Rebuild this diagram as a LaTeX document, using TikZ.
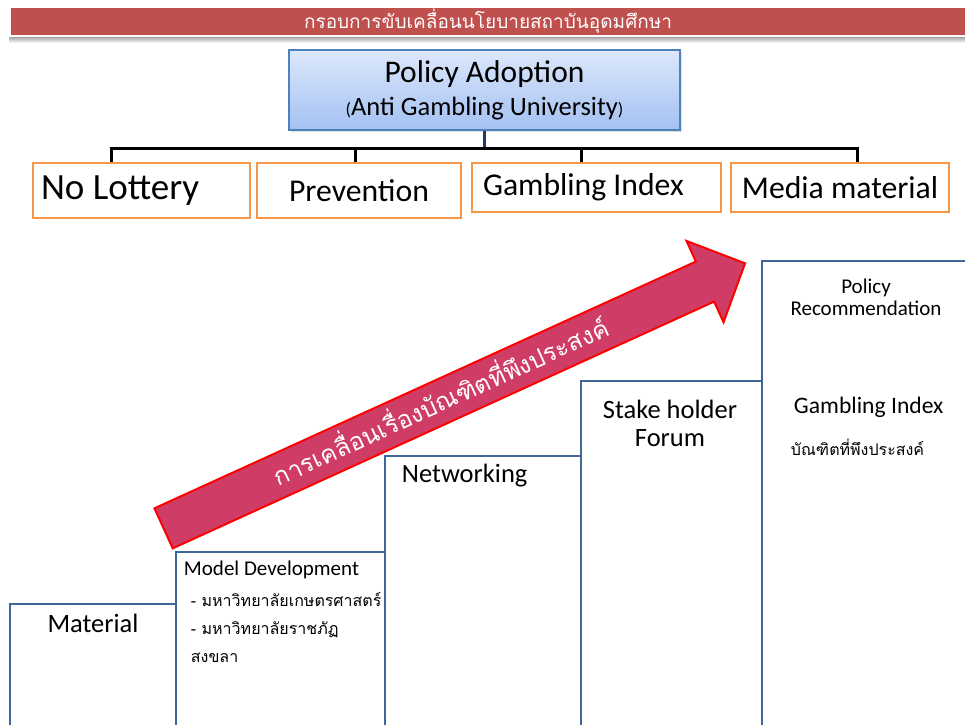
\documentclass[tikz,border=0pt]{standalone}
\usepackage{fontspec}
\setmainfont{Carlito}
\newfontfamily\thaifont[Script=Thai]{Loma}
\usetikzlibrary{positioning, calc, shadows}

\definecolor{titlered}{HTML}{C0504D}
\definecolor{policyblue}{HTML}{4F81BD}
\definecolor{policytop}{HTML}{DCE7FB}
\definecolor{policybottom}{HTML}{A3C1F2}
\definecolor{boxorange}{HTML}{F79646}
\definecolor{stairblue}{HTML}{41669A}
\definecolor{arrowfill}{HTML}{CF3D66}
\definecolor{navy}{HTML}{1F3864}

\begin{document}
\begin{tikzpicture}[
    x=1pt, y=-1pt,
    titlebar/.style={rectangle, fill=titlered, minimum width=954pt, minimum height=27pt, inner sep=0pt, text=white, font=\thaifont\fontsize{19}{24}\selectfont},
    policy/.style={rectangle, draw=policyblue, line width=1.2pt, top color=policytop, bottom color=policybottom, minimum width=391pt, minimum height=80pt, align=center, font=\fontsize{26.5}{32}\selectfont, drop shadow={opacity=0.25, shadow xshift=2pt, shadow yshift=-2pt}},
    goal/.style={rectangle, draw=boxorange, line width=2pt, fill=white, inner xsep=8pt, inner ysep=0pt, font=\fontsize{31.7}{36}\selectfont},
    stair/.style={rectangle, draw=stairblue, line width=2.5pt, fill=white},
    steptext/.style={inner sep=0pt, align=center, font=\fontsize{26.5}{28}\selectfont},
    thaitext/.style={inner sep=0pt, align=left, font=\thaifont\fontsize{16}{28}\selectfont},
    tree/.style={line width=3pt},
    trunk/.style={draw=navy, line width=2.5pt},
    bigarrow/.style={fill=arrowfill, draw=red, line width=2pt, line join=miter}
]
\useasboundingbox (0,0) rectangle (965,724);
\clip (0,0) rectangle (965,724);

% Title bar
\node[titlebar] (title) at (488,21.5) {กรอบการขับเคลื่อนนโยบายสถาบันอุดมศึกษา};
\fill[top color=gray!70, bottom color=white] (9,37) rectangle (965,43);

% Policy box
\node[policy] (policy) at (484.5,90) {%
    {\fontsize{31.5}{32}\selectfont Policy Adoption}\\[1pt]
    {\fontsize{18}{32}\selectfont(}Anti Gambling University{\fontsize{18}{32}\selectfont)}};

% Four goals
\node[goal, minimum width=217pt, minimum height=55pt, text width=201pt, align=flush left, font=\fontsize{37}{40}\selectfont] (lottery) at (141.5,190.5) {No Lottery};
\node[goal, minimum width=204pt, minimum height=55pt] (prevention) at (359,190.5) {Prevention};
\node[goal, minimum width=249pt, minimum height=49pt, inner xsep=11pt, text width=227pt, align=flush left] (gindex) at (596.5,187.5) {Gambling Index};
\node[goal, minimum width=218pt, minimum height=49pt] (media) at (840,187.5) {Media material};

% Tree lines
\coordinate (barL) at (109.5,148);
\coordinate (barR) at (858.5,148);
\draw[trunk] (policy.south) -- (policy.south |- barL);
\draw[tree] (barL) -- (barR);
\draw[tree] ([xshift=-30.5pt]lottery.north) -- ([xshift=-30.5pt]lottery.north |- barL);
\draw[tree] ([xshift=-4pt]prevention.north) -- ([xshift=-4pt]prevention.north |- barL);
\draw[tree] ([xshift=-15.5pt]gindex.north) -- ([xshift=-15.5pt]gindex.north |- barL);
\draw[tree] ([xshift=17pt]media.north) -- ([xshift=17pt]media.north |- barL);

% Staircase
\node[stair, minimum width=166pt, minimum height=136pt] (material) at (93,672) {};
\node[stair, minimum width=209pt, minimum height=188pt] (model) at (280.5,646) {};
\node[stair, minimum width=196pt, minimum height=284pt] (network) at (483,598) {};
\node[stair, minimum width=181pt, minimum height=359pt] (forum) at (671.5,560.5) {};
\node[stair, minimum width=213pt, minimum height=479pt] (recommend) at (868.5,500.5) {};

% Step texts
\node[steptext, below=11pt of material.north] (materialtext) {Material};
\node[steptext, anchor=north west, font=\fontsize{21}{24}\selectfont, below right=10pt and 9pt of model.north west] (modeltext) {Model Development};
\node[thaitext, below right=13pt and 7pt of modeltext.south west] (unilist) {- มหาวิทยาลัยเกษตรศาสตร์\\- มหาวิทยาลัยราชภัฏ\\สงขลา};
\node[steptext, below right=9pt and 18pt of network.north west] (networktext) {Networking};
\node[steptext, below=20pt of forum.north, xshift=-1.5pt] (forumtext) {Stake holder\\Forum};
\node[steptext, font=\fontsize{21}{22}\selectfont, below=19pt of recommend.north, xshift=-2.5pt] (rectext) {Policy\\Recommendation};
\node[steptext, font=\fontsize{23.6}{26}\selectfont, below right=137pt and 33pt of recommend.north west] (gindextext) {Gambling Index};
\node[thaitext, below right=21pt and -3pt of gindextext.south west] (graduate) {บัณฑิตที่พึงประสงค์};

% Rising arrow
\coordinate (tail) at (163.6,528.3);
\begin{scope}[shift={(tail)}, rotate=24.5]
  \filldraw[bigarrow] (0,-22) -- (595,-22) -- (595,-44.7) -- (639,0) -- (595,44.7) -- (595,22) -- (0,22) -- cycle;
  \node[transform shape, text=white, inner sep=0pt, font=\thaifont\fontsize{24.5}{28}\selectfont] (slogan) at (305,-3) {การเคลื่อนเรื่องบัณฑิตที่พึงประสงค์};
\end{scope}

\end{tikzpicture}
\end{document}
